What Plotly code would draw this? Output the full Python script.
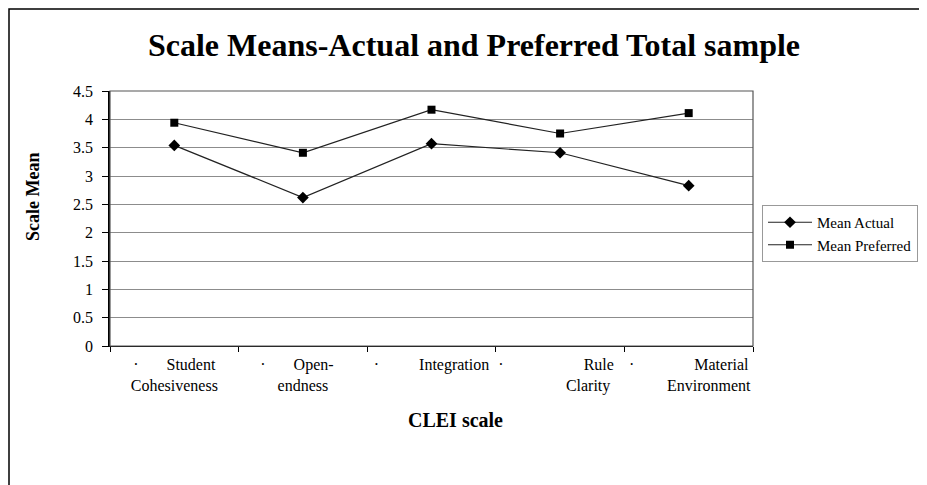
import plotly.graph_objects as go

categories = ["Student Cohesiveness", "Open-endness", "Integration", "Rule Clarity", "Material Environment"]
NB = "&nbsp;"
tick_labels = [
    "·" + NB * 7 + "Student<br>Cohesiveness",
    "·" + NB * 7 + "Open-" + NB * 3 + "<br>endness",
    "·" + NB * 10 + "Integration",
    "·" + NB * 20 + "Rule" + NB * 2 + "<br>" + NB * 14 + "Clarity",
    "·" + NB * 15 + "Material<br>" + NB * 10 + "Environment",
]
mean_actual = [3.54, 2.62, 3.57, 3.41, 2.83]
mean_preferred = [3.94, 3.41, 4.17, 3.75, 4.11]
y_ticks = [0, 0.5, 1, 1.5, 2, 2.5, 3, 3.5, 4, 4.5]
y_tick_labels = ["0", "0.5", "1", "1.5", "2", "2.5", "3", "3.5", "4", "4.5"]

serif = "Liberation Serif, Times New Roman, serif"

fig = go.Figure()
fig.add_trace(go.Scatter(
    x=categories, y=mean_actual, name="Mean Actual", mode="lines+markers",
    line=dict(color="#222222", width=1.2),
    marker=dict(symbol="diamond", size=9, color="black"),
))
fig.add_trace(go.Scatter(
    x=categories, y=mean_preferred, name="Mean Preferred", mode="lines+markers",
    line=dict(color="#222222", width=1.2),
    marker=dict(symbol="square", size=8, color="black"),
))

L, R, T, B = 102, 182, 83, 147
W, H = 927, 485
pw, ph = W - L - R, H - T - B

def px(x):
    return (x - L) / pw

def py(y):
    return (H - B - y) / ph

fig.update_layout(
    width=W, height=H,
    margin=dict(l=L, r=R, t=T, b=B),
    paper_bgcolor="white", plot_bgcolor="white",
    font=dict(family=serif, color="black", size=13),
    title=dict(text="<b>Scale Means-Actual and Preferred Total sample</b>",
               xref="container", x=466 / W, xanchor="center",
               yref="container", y=1 - 37 / H, yanchor="middle",
               font=dict(family=serif, size=32, color="black")),
    showlegend=True,
    legend=dict(x=px(754), xanchor="left", y=py(197), yanchor="top",
                bgcolor="white", bordercolor="#999999", borderwidth=1,
                font=dict(family=serif, size=15, color="black"),
                tracegroupgap=0, itemwidth=44),
    xaxis=dict(
        type="category", tickmode="array", tickvals=categories, ticktext=tick_labels,
        showgrid=False, showline=True, linecolor="black", linewidth=1,
        ticks="outside", tickson="boundaries", ticklen=5, tickcolor="black",
        ticklabelstandoff=4, tickangle=0,
        tickfont=dict(family=serif, size=16, color="black"),
        range=[-0.5, 4.5], fixedrange=True,
    ),
    yaxis=dict(
        range=[0, 4.5], tickmode="array", tickvals=y_ticks, ticktext=y_tick_labels,
        showgrid=True, gridcolor="#8c8c8c", gridwidth=1,
        showline=True, linecolor="black", linewidth=1.5,
        ticks="outside", ticklen=6, tickcolor="black",
        ticklabelstandoff=6,
        tickfont=dict(family=serif, size=16, color="black"),
        zeroline=False, fixedrange=True,
    ),
    annotations=[
        dict(text="<b>CLEI scale</b>", xref="paper", yref="paper", x=px(448), y=py(412),
             xanchor="center", yanchor="middle", showarrow=False,
             font=dict(family=serif, size=20, color="black")),
        dict(text="<b>Scale Mean</b>", xref="paper", yref="paper", x=px(25), y=py(189),
             xanchor="center", yanchor="middle", showarrow=False, textangle=-90,
             font=dict(family=serif, size=18, color="black")),
    ],
    shapes=[
        dict(type="rect", xref="paper", yref="paper", x0=0, x1=1, y0=0, y1=1,
             line=dict(color="#555555", width=1.2), layer="above"),
        dict(type="rect", xref="paper", yref="paper", x0=px(1), x1=px(1000), y0=py(1), y1=py(600),
             line=dict(color="black", width=1.5), layer="above"),
    ],
)

fig.write_html("out.html")
